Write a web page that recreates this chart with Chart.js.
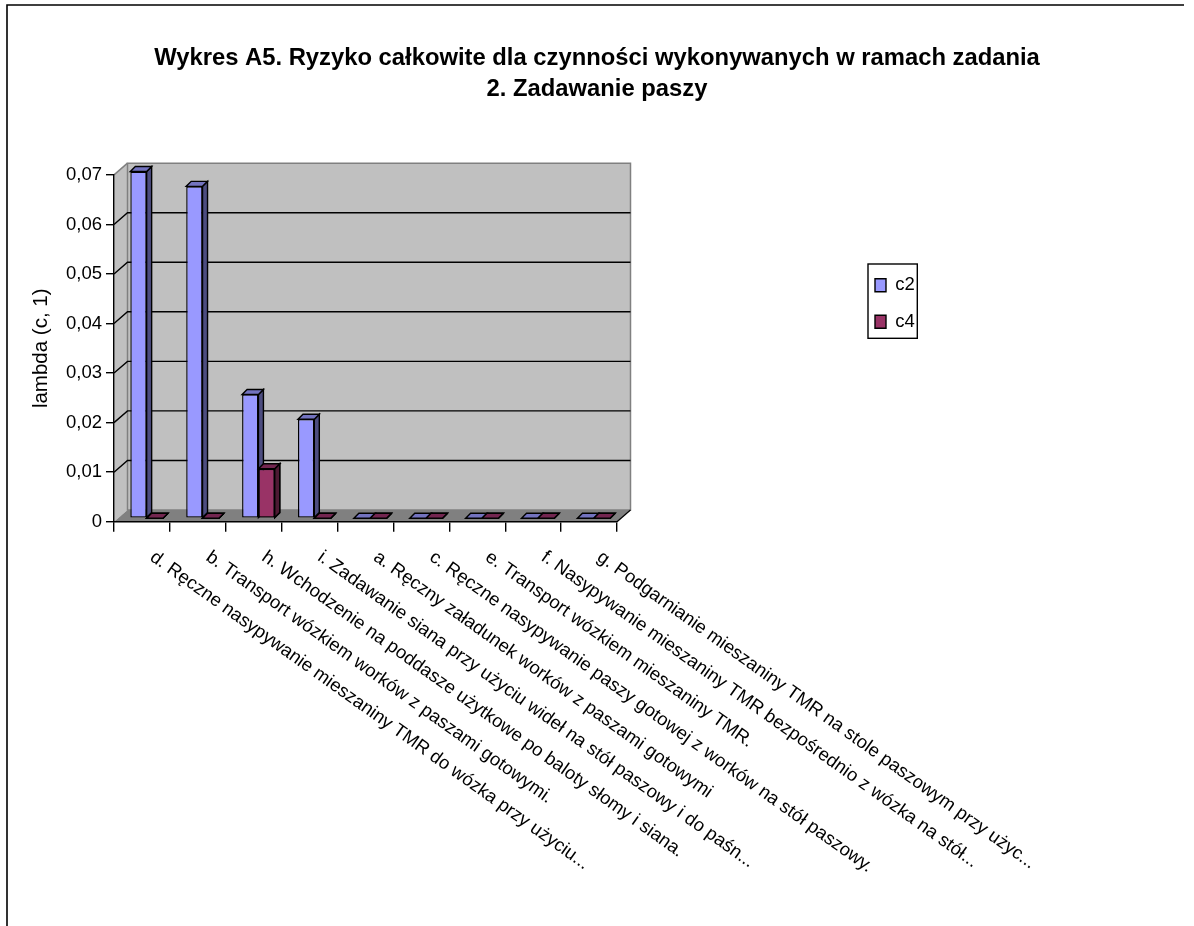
<!DOCTYPE html>
<html><head><meta charset="utf-8">
<style>html,body{margin:0;padding:0;background:#fff}canvas{display:block}</style>
<script src="https://cdn.jsdelivr.net/npm/chart.js@4/dist/chart.umd.min.js"></script>
</head><body>
<div style="width:1194px;height:926px"><canvas id="c" width="1194" height="926"></canvas></div>
<script>
const titleLines = ["Wykres A5. Ryzyko całkowite dla czynności wykonywanych w ramach zadania","2. Zadawanie paszy"];
const yAxisTitle = "lambda (c, 1)";
const categories = [
 "d. Ręczne nasypywanie mieszaniny TMR do wózka przy użyciu...",
 "b. Transport wózkiem worków z paszami gotowymi.",
 "h. Wchodzenie na poddasze użytkowe po baloty słomy i siana.",
 "i. Zadawanie siana przy użyciu wideł na stół paszowy i do paśn...",
 "a. Ręczny załadunek worków z paszami gotowymi",
 "c. Ręczne nasypywanie paszy gotowej z worków na stół paszowy.",
 "e. Transport wózkiem mieszaniny TMR.",
 "f. Nasypywanie mieszaniny TMR bezpośrednio z wózka na stół...",
 "g. Podgarnianie mieszaniny TMR na stole paszowym przy użyc..."
];
const c2 = [0.07,0.067,0.025,0.02,0,0,0,0,0];
const c4 = [0,0,0.01,0,0,0,0,0,0];
const FONT = "'Liberation Sans', Arial, sans-serif";
const WALL = {dx:13.5, dy:-11.7};      // chart depth
const BAR = {dx:5, dy:-5, sx:4.7, sy:-3.4}; // bar depth and floor offset
const faces = [{top:"#7373bf",side:"#4d4d80"},{top:"#732650",side:"#4d1a33"}];

function poly(ctx, pts, fill, stroke, lw){
  ctx.beginPath(); pts.forEach((p,i)=> i?ctx.lineTo(p[0],p[1]):ctx.moveTo(p[0],p[1])); ctx.closePath();
  if(fill){ctx.fillStyle=fill;ctx.fill();}
  if(stroke){ctx.strokeStyle=stroke;ctx.lineWidth=lw;ctx.stroke();}
}
function drawFaces(ctx, meta, f){
  meta.data.forEach(b=>{
    const l=b.x-b.width/2, r=b.x+b.width/2;
    poly(ctx,[[r,b.y],[r+BAR.dx,b.y+BAR.dy],[r+BAR.dx,b.base+BAR.dy],[r,b.base]],f.side,"#000",1.4);
    poly(ctx,[[l,b.y],[l+BAR.dx,b.y+BAR.dy],[r+BAR.dx,b.y+BAR.dy],[r,b.y]],f.top,"#000",1.4);
  });
}
const scene = {
  id:"scene",
  beforeLayout(chart){
    const l = chart.legend;
    if(!l._wrapped){ const f=l.fit; l.fit=function(){ f.call(this); this.width=577; }; l._wrapped=true; }
  },
  afterLayout(chart){
    const l = chart.legend, w = l.right-l.left, h = l.bottom-l.top;
    l.left = 857; l.right = l.left+w; l.top = 258; l.bottom = l.top+h;
  },
  beforeDraw(chart){
    const {ctx, chartArea:a, scales:{y}} = chart;
    ctx.save();
    ctx.strokeStyle="#000"; ctx.lineWidth=1.6;
    ctx.beginPath(); ctx.moveTo(7,926); ctx.lineTo(7,5); ctx.lineTo(1184,5); ctx.stroke();
    const d=WALL;
    poly(ctx,[[a.left,a.top],[a.left+d.dx,a.top+d.dy],[a.left+d.dx,a.bottom+d.dy],[a.left,a.bottom]],"#c0c0c0");
    poly(ctx,[[a.left+d.dx,a.top+d.dy],[a.right+d.dx,a.top+d.dy],[a.right+d.dx,a.bottom+d.dy],[a.left+d.dx,a.bottom+d.dy]],"#c0c0c0","#808080",1.5);
    ctx.strokeStyle="#808080"; ctx.lineWidth=1.5;
    ctx.beginPath(); ctx.moveTo(a.left,a.top); ctx.lineTo(a.left+d.dx,a.top+d.dy); ctx.stroke();
    y.ticks.forEach(t=>{
      if(t.value<=0||t.value>=y.max) return;
      const p=y.getPixelForValue(t.value);
      ctx.strokeStyle="#000"; ctx.lineWidth=1.4;
      ctx.beginPath(); ctx.moveTo(a.left,p); ctx.lineTo(a.left+d.dx,p+d.dy); ctx.lineTo(a.right+d.dx,p+d.dy); ctx.stroke();
    });
    poly(ctx,[[a.left,a.bottom],[a.right,a.bottom],[a.right+d.dx,a.bottom+d.dy],[a.left+d.dx,a.bottom+d.dy]],"#808080");
    ctx.strokeStyle="#000"; ctx.lineWidth=1.2;
    ctx.beginPath(); ctx.moveTo(a.right,a.bottom); ctx.lineTo(a.right+d.dx,a.bottom+d.dy); ctx.stroke();
    ctx.restore();
  },
  beforeDatasetDraw(chart,args){
    const ctx=chart.ctx;
    ctx.save(); ctx.translate(BAR.sx,BAR.sy);
    drawFaces(ctx,args.meta,faces[args.index]);
  },
  afterDatasetDraw(chart){ chart.ctx.restore(); },
  // the second series stands in front of the first one, so it goes on top
  afterDatasetsDraw(chart){
    const ctx=chart.ctx, meta=chart.getDatasetMeta(1);
    ctx.save(); ctx.translate(BAR.sx,BAR.sy);
    drawFaces(ctx,meta,faces[1]);
    meta.data.forEach(b=>b.draw(ctx));
    ctx.restore();
  },
  afterDraw(chart){
    const {ctx}=chart;
    ctx.save(); ctx.strokeStyle="#000"; ctx.lineWidth=1.4;
    ctx.strokeRect(868,264,49.3,74.3); ctx.restore();
  }
};
new Chart(document.getElementById("c"),{
  type:"bar",
  data:{labels:categories,datasets:[
    {label:"c2",data:c2,backgroundColor:"#9999ff",borderColor:"#000",borderWidth:1.4,borderSkipped:false,clip:false},
    {label:"c4",data:c4,backgroundColor:"#993366",borderColor:"#000",borderWidth:1.4,borderSkipped:false,clip:false}
  ]},
  options:{
    responsive:false,animation:false,
    layout:{autoPadding:false,padding:0},
    datasets:{bar:{categoryPercentage:0.584,barPercentage:1}},
    plugins:{
      tooltip:{enabled:false},
      title:{display:true,text:titleLines,color:"#000",font:{family:FONT,size:23.8,weight:"bold",lineHeight:1.3},padding:{top:43,bottom:70}},
      legend:{position:"right",align:"start",labels:{color:"#000",boxWidth:11,boxHeight:13,padding:18,font:{family:FONT,size:18.5}}}
    },
    scales:{
      x:{
        grid:{offset:true,drawOnChartArea:false,color:"#000",lineWidth:1.4,tickLength:10,tickColor:"#000"},
        border:{color:"#000",width:1.4},
        ticks:{autoSkip:false,minRotation:-35.5,maxRotation:-35.5,padding:14.5,labelOffset:10,color:"#000",font:{family:FONT,size:18.5}},
        afterDataLimits(s){ s._getXAxisLabelAlignment=()=>"left"; },
        afterFit(s){ s.height=404.3; s.paddingLeft=0; s.paddingRight=0; }
      },
      y:{
        min:0,max:0.07,
        grid:{drawOnChartArea:false,color:"#000",lineWidth:1.4,tickLength:8,tickColor:"#000"},
        border:{color:"#000",width:1.4},
        ticks:{stepSize:0.01,padding:4,color:"#000",font:{family:FONT,size:18.5},
          callback:v=>String(Math.round(v*100)/100).replace(".",",")},
        title:{display:true,text:yAxisTitle,color:"#000",font:{family:FONT,size:20.5},padding:{top:29,bottom:0}},
        afterFit(s){ s.width=114; s.paddingTop=0; s.paddingBottom=0; }
      }
    }
  },
  plugins:[scene]
});
</script>
</body></html>
